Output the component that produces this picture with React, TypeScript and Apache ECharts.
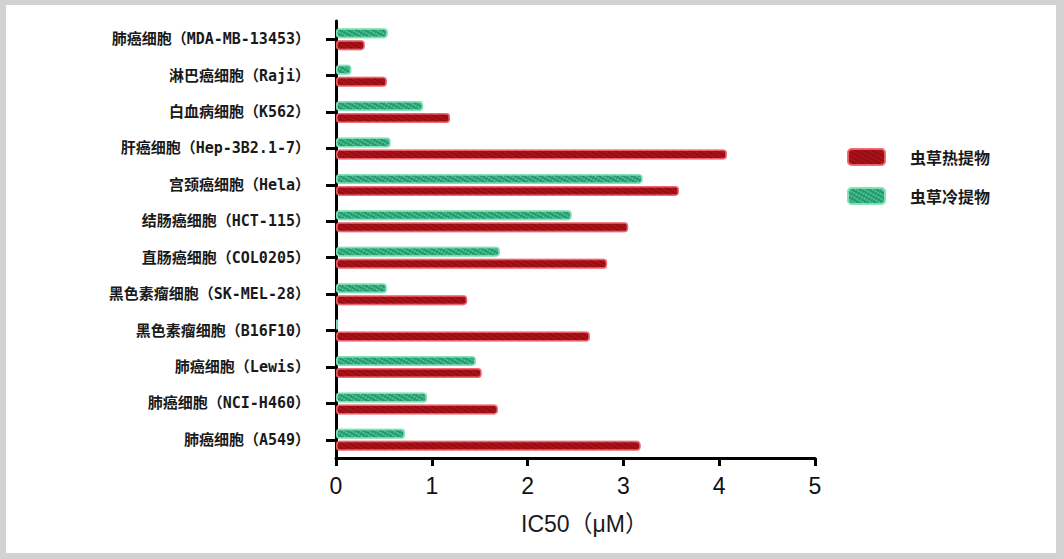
import React, { useEffect, useRef } from "react";
import * as echarts from "echarts";

const categories = [
  "肺癌细胞（A549）",
  "肺癌细胞（NCI-H460）",
  "肺癌细胞（Lewis）",
  "黑色素瘤细胞（B16F10）",
  "黑色素瘤细胞（SK-MEL-28）",
  "直肠癌细胞（COL0205）",
  "结肠癌细胞（HCT-115）",
  "宫颈癌细胞（Hela）",
  "肝癌细胞（Hep-3B2.1-7）",
  "白血病细胞（K562）",
  "淋巴癌细胞（Raji）",
  "肺癌细胞（MDA-MB-13453）",
];
const hotName = "虫草热提物";
const coldName = "虫草冷提物";
const hotValues = [3.18, 1.69, 1.52, 2.65, 1.37, 2.83, 3.05, 3.58, 4.08, 1.19, 0.53, 0.3];
const coldValues = [0.72, 0.95, 1.46, 0.02, 0.53, 1.71, 2.46, 3.2, 0.57, 0.91, 0.16, 0.54];
const xTicks = { min: 0, max: 5, interval: 1 };
const xName = "IC50（μM）";

export default function App() {
  const ref = useRef<HTMLDivElement>(null);
  useEffect(() => {
    if (!ref.current) return;
    const chart = echarts.init(ref.current, null, { renderer: "svg" });
    const labelFont = '"DejaVu Sans Mono", "Noto Sans CJK SC", sans-serif';
    const cjk = '"Noto Sans CJK SC", sans-serif';
    const hotStyle = {
      color: "#ad121a",
      borderColor: "rgba(240,100,110,0.75)",
      borderWidth: 1.5,
      borderRadius: 3,
      decal: {
        symbol: "circle",
        symbolSize: 0.7,
        color: "rgba(70,0,0,0.45)",
        dashArrayX: [3, 0],
        dashArrayY: [3, 1],
        rotation: 0.5,
      },
    };
    const coldStyle = {
      color: "#1b9a6b",
      borderColor: "rgba(130,225,180,0.8)",
      borderWidth: 1.5,
      borderRadius: 3,
      decal: {
        symbol: "circle",
        symbolSize: 0.7,
        color: "rgba(200,255,230,0.5)",
        dashArrayX: [3, 0],
        dashArrayY: [3, 1],
        rotation: 0.5,
      },
    };
    chart.setOption({
      animation: false,
      backgroundColor: "#ffffff",
      graphic: [
        { type: "rect", left: 0, top: 0, shape: { width: 1064, height: 5 }, style: { fill: "#d2d2d2" } },
        { type: "rect", left: 0, top: 0, shape: { width: 6, height: 559 }, style: { fill: "#d2d2d2" } },
        { type: "rect", right: 0, top: 0, shape: { width: 8, height: 559 }, style: { fill: "#d2d2d2" } },
        { type: "rect", left: 0, bottom: 0, shape: { width: 1064, height: 6 }, style: { fill: "#d2d2d2" } },
      ],
      legend: {
        data: [hotName, coldName],
        orient: "vertical",
        left: 842,
        top: 143,
        itemWidth: 37,
        itemHeight: 16,
        itemGap: 21,
        icon: "roundRect",
        textStyle: {
          fontFamily: cjk,
          fontWeight: "bold",
          fontSize: 16,
          color: "#1a1a1a",
          padding: [0, 0, 0, 20],
        },
      },
      grid: { left: 336, right: 249, top: 21, bottom: 101, containLabel: false },
      xAxis: {
        type: "value",
        min: xTicks.min,
        max: xTicks.max,
        interval: xTicks.interval,
        name: xName,
        nameLocation: "middle",
        nameGap: 54,
        nameTextStyle: { fontFamily: '"Liberation Sans", "Noto Sans CJK SC", sans-serif', fontSize: 23, color: "#1a1a1a", padding: [0, 0, 0, 18] },
        axisLine: { show: true, lineStyle: { color: "#000", width: 3 } },
        axisTick: { show: true, length: 8, lineStyle: { color: "#000", width: 3 } },
        axisLabel: { fontFamily: '"Liberation Sans", sans-serif', fontSize: 23, color: "#111", margin: 16 },
        splitLine: { show: false },
      },
      yAxis: {
        type: "category",
        data: categories,
        axisLine: { show: true, lineStyle: { color: "#000", width: 3 } },
        axisTick: { show: true, length: 10, alignWithLabel: true, lineStyle: { color: "#000", width: 3 } },
        axisLabel: { fontFamily: labelFont, fontWeight: "bold", fontSize: 15, color: "#1a1a1a", margin: 26 },
      },
      series: [
        {
          name: coldName,
          type: "bar",
          data: coldValues,
          barWidth: 10,
          barGap: "20%",
          itemStyle: coldStyle,
        },
        {
          name: hotName,
          type: "bar",
          data: hotValues,
          barWidth: 10,
          barGap: "20%",
          itemStyle: hotStyle,
        },
      ],
    });
    return () => chart.dispose();
  }, []);
  return (
    <div
      ref={ref}
      style={{ position: "fixed", left: 0, top: 0, width: 1064, height: 559 }}
    />
  );
}
